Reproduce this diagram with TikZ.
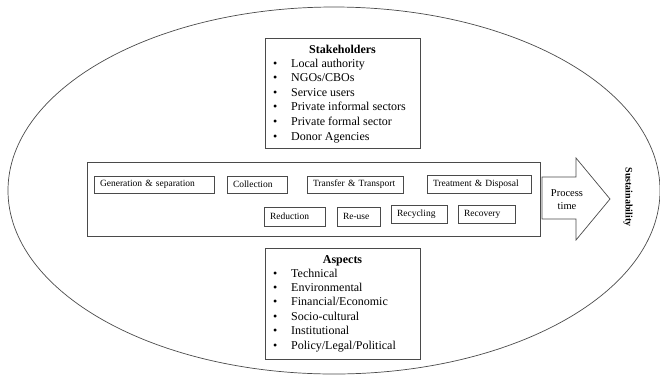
\documentclass[tikz,border=0pt]{standalone}
\usepackage{fontspec}
\setmainfont{Liberation Serif}
\usetikzlibrary{shapes.geometric}
\definecolor{edgegrey}{HTML}{4A4A4A}
\tikzset{outline/.style={draw=edgegrey,line width=.7pt},panel/.style={outline,rectangle,inner sep=0pt},stage/.style={outline,rectangle,inner xsep=6pt,inner ysep=0pt,align=left,font=\fontsize{9.5}{11}\selectfont},heading/.style={anchor=base,inner sep=0pt,font=\fontsize{12}{14}\selectfont\bfseries},entry/.style={anchor=base west,inner sep=0pt,font=\fontsize{12}{14}\selectfont},every picture/.style={line cap=round}}

\begin{document}
\begin{tikzpicture}[x=1pt,y=-1pt]
\useasboundingbox (0,0) rectangle (660,376);
\node[outline,ellipse,inner sep=0pt,minimum width=652pt,minimum height=367pt] (field) at (334,190.5) {};
\node[font=\fontsize{10}{12}\selectfont\bfseries,rotate=-90] (sust) at (628,197) {Sustainability};
% who is involved
\node[panel,minimum width=155pt,minimum height=110pt] (stake) at (342.5,93) {};
\node[heading] (staketitle) at (342.5,53) {Stakeholders};
\foreach \t [count=\i] in {Local authority,{NGOs/CBOs},Service users,Private informal sectors,Private formal sector,Donor Agencies}{
\node[entry] (st\i) at (291,52.5+14.6*\i) {\t};
\node[entry] (sb\i) at (273,52.5+14.6*\i) {\textbullet};
}
% what has to be looked at
\node[panel,minimum width=155pt,minimum height=111pt] (aspect) at (342.5,303.5) {};
\node[heading] (aspecttitle) at (342.5,263) {Aspects};
\foreach \t [count=\i] in {Technical,Environmental,{Financial/Economic},Socio-cultural,Institutional,{Policy/Legal/Political}}{
\node[entry] (as\i) at (291,262.6+14.4*\i) {\t};
\node[entry] (ab\i) at (273,262.6+14.4*\i) {\textbullet};
}
% the chain of elements
\node[panel,minimum width=453pt,minimum height=74pt] (chain) at (313.5,199) {};
\foreach \n/\x/\y/\w/\h/\t [evaluate=\w as \tw using \w-12] in {gen/154/184.5/120/17/{Generation \& separation},col/257/184.5/60/17/Collection,trans/355/184.5/96/17/{Transfer \& Transport},treat/479/184/104/18/{Treatment \& Disposal},red/294.5/216.5/61/19/Reduction,reuse/358.5/216.5/43/19/Re-use,recyc/419/214/56/18/Recycling,recov/486.5/214/57/18/Recovery}{
\node[stage,text width=\tw pt,minimum height=\h pt] (\n) at (\x,\y) {\t};
}
\draw[outline,line join=miter] (542,177)--(576,177)--(576,158)--(610,199)--(576,240)--(576,219)--(542,219)--cycle;
\node[align=center,inner sep=0pt,font=\fontsize{10.5}{13}\selectfont] (proc) at (567,199.5) {Process\\time};
\end{tikzpicture}
\end{document}
